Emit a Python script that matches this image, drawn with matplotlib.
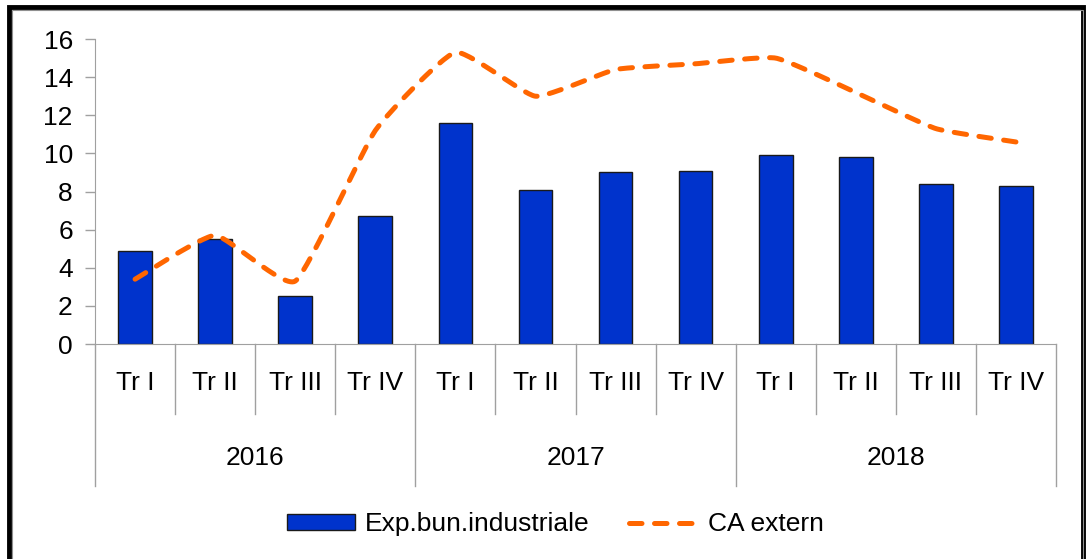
import matplotlib.pyplot as plt
import numpy as np
from matplotlib.patches import Rectangle

plt.rcParams['font.family'] = ['Liberation Sans', 'DejaVu Sans']

quarters = ["Tr I", "Tr II", "Tr III", "Tr IV"] * 3
years = ["2016", "2017", "2018"]
exp_bun = [4.9, 5.5, 2.5, 6.7, 11.6, 8.1, 9.0, 9.1, 9.9, 9.8, 8.4, 8.3]
ca_extern = [3.4, 5.7, 3.3, 11.2, 15.3, 13.0, 14.4, 14.7, 15.0, 13.2, 11.3, 10.6]


def smooth(xs, ys, s=0.45, n=30):
    # cardinal spline through the points (excel-like "smoothed line")
    xs = np.asarray(xs, float)
    ys = np.asarray(ys, float)
    pts = np.c_[xs, ys]
    ext = np.vstack([pts[0], pts, pts[-1]])
    tang = s * (ext[2:] - ext[:-2]) / 2
    t = np.linspace(0, 1, n, endpoint=False)[:, None]
    h00 = 2 * t**3 - 3 * t**2 + 1
    h10 = t**3 - 2 * t**2 + t
    h01 = -2 * t**3 + 3 * t**2
    h11 = t**3 - t**2
    out = []
    for i in range(len(pts) - 1):
        out.append(h00 * pts[i] + h10 * tang[i] + h01 * pts[i + 1] + h11 * tang[i + 1])
    out.append(pts[-1:])
    out = np.vstack(out)
    return out[:, 0], out[:, 1]


fs = 19
fig = plt.figure(figsize=(10.91, 5.59), dpi=100)
ax = fig.add_axes([0.0871, 0.3846, 0.8808, 0.5456])

x = np.arange(len(exp_bun))
bars = ax.bar(x, exp_bun, width=0.42, color="#0033CC", edgecolor="#1a1a1a",
              linewidth=1.0, zorder=2)
sx, sy = smooth(x, ca_extern)
line, = ax.plot(sx, sy, color="#FF6600", linewidth=3.6, linestyle=(0, (2.5, 2.5)),
                dash_capstyle="round", zorder=3)

ax.set_xlim(-0.5, 11.5)
ax.set_ylim(0, 16)
ax.set_yticks(range(0, 17, 2))
ax.tick_params(axis="y", labelsize=fs, color="#a0a0a0", length=7, width=1, pad=9)
ax.set_xticks([])
for s in ["top", "right"]:
    ax.spines[s].set_visible(False)
ax.spines["left"].set_color("#a0a0a0")
ax.spines["bottom"].set_color("#a0a0a0")

tr = ax.get_xaxis_transform()
for i, q in enumerate(quarters):
    ax.text(i, -0.128, q, transform=tr, ha="center", va="center", fontsize=fs)
for i in range(len(quarters) + 1):
    low = -0.466 if i % 4 == 0 else -0.23
    ax.plot([i - 0.5, i - 0.5], [0, low], transform=tr, color="#a0a0a0",
            linewidth=1, clip_on=False)
for j, yr in enumerate(years):
    ax.text(4 * j + 1.5, -0.374, yr, transform=tr, ha="center", va="center",
            fontsize=fs)

fig.legend([bars, line], ["Exp.bun.industriale", "CA extern"],
           loc="center", bbox_to_anchor=(0.5087, 0.062), ncol=2, frameon=False,
           fontsize=fs, handlelength=2.6, handleheight=0.57, columnspacing=1.48,
           handletextpad=0.38)

# frame around the chart
fig.patches.append(Rectangle((0.0085, -0.05), 0.9845, 1.038, transform=fig.transFigure,
                             fill=False, edgecolor="black", linewidth=3.5))
fig.patches.append(Rectangle((0.0112, -0.05), 0.9815, 1.032, transform=fig.transFigure,
                             fill=False, edgecolor="#909090", linewidth=0.8))

fig.savefig("out.png", dpi=100)
